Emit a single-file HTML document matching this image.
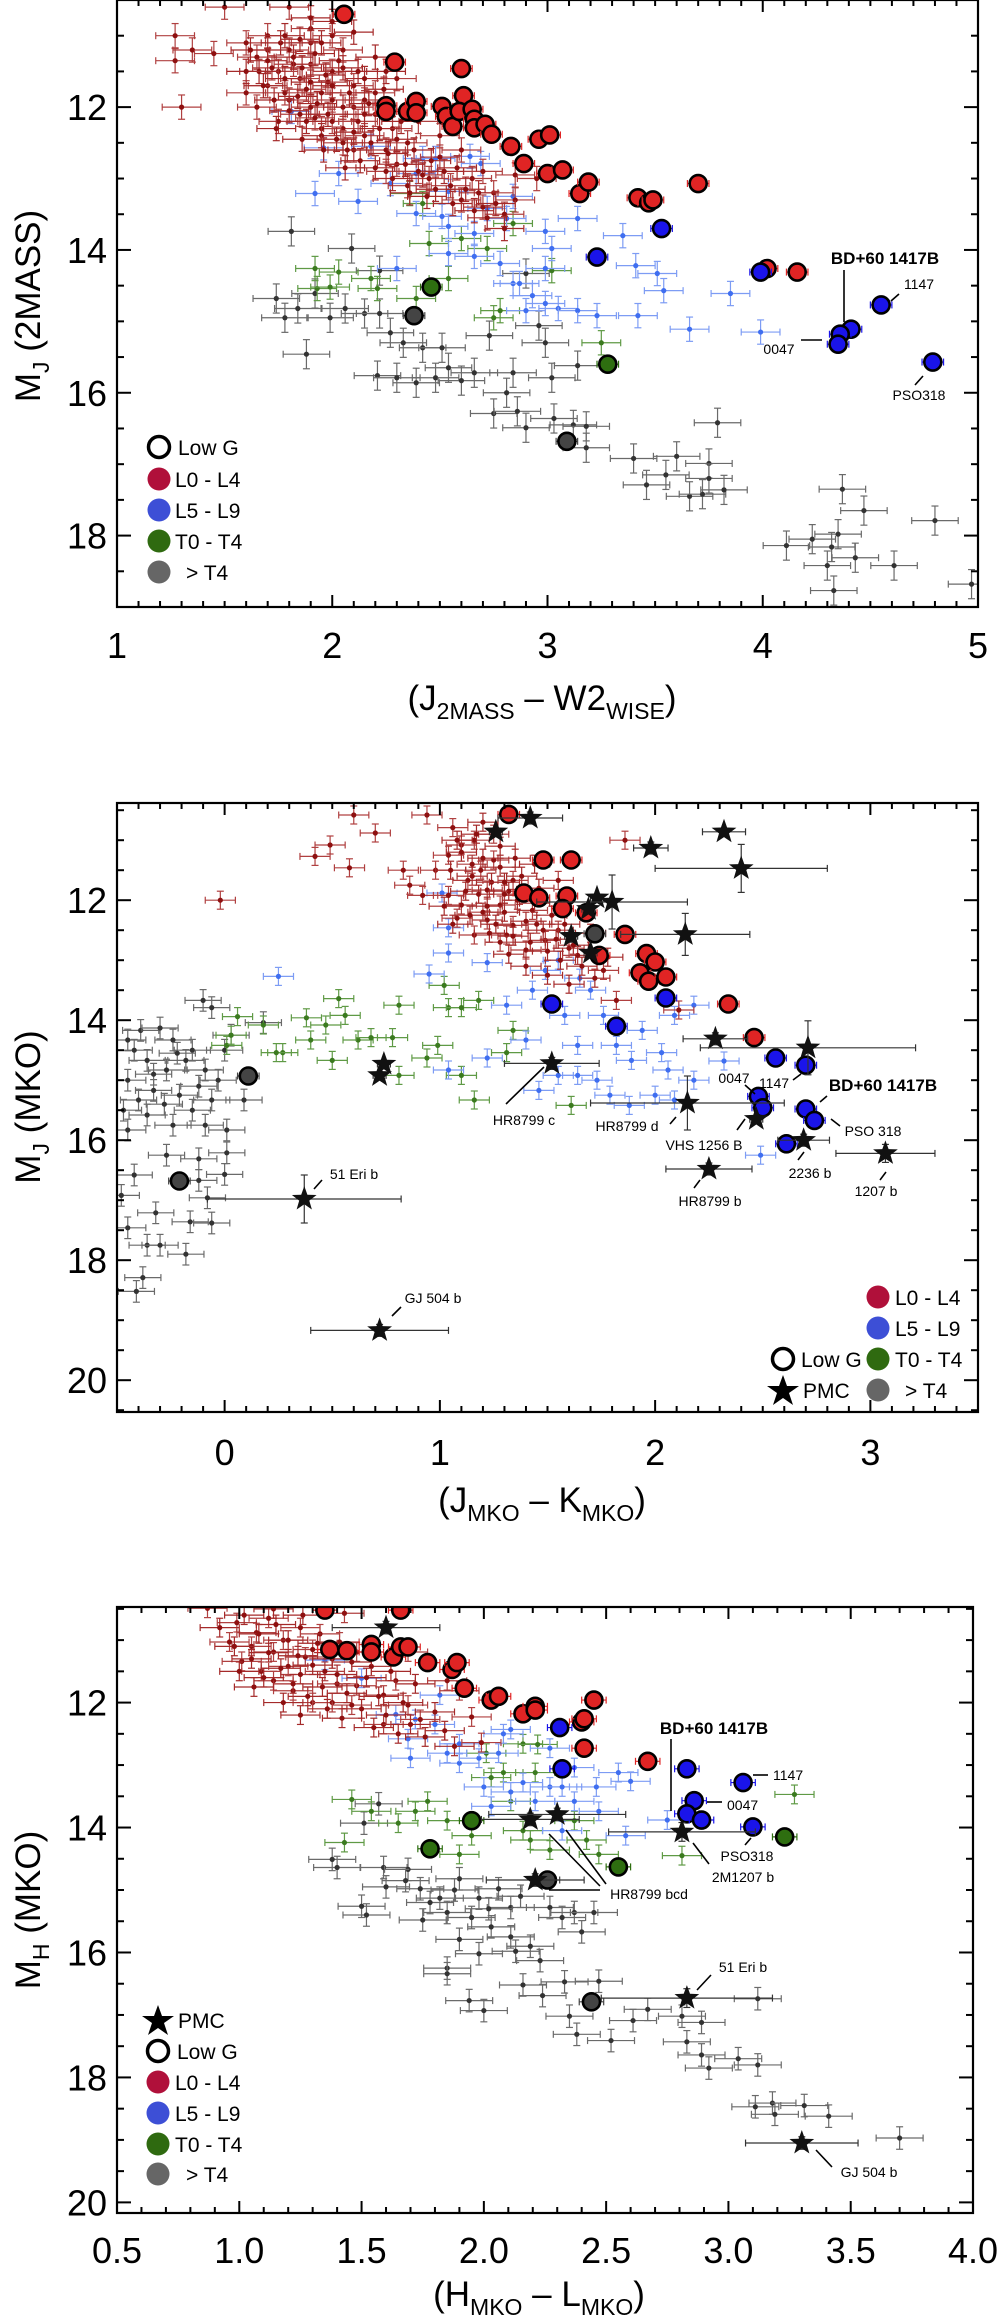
<!DOCTYPE html>
<html><head><meta charset="utf-8"><title>Color-magnitude diagrams</title>
<style>
html,body{margin:0;padding:0;background:#fff;}
svg{display:block;font-family:"Liberation Sans",Arial,sans-serif;}
.tick{font-size:36px;fill:#000;}
.ttl{font-size:35px;fill:#000;}
.ann{font-size:14px;fill:#000;}
.annb{font-size:17px;font-weight:bold;fill:#000;}
.leg{font-size:21px;fill:#000;}
</style></head>
<body>
<svg id="fig" width="1000" height="2318" viewBox="0 0 1000 2318" xmlns="http://www.w3.org/2000/svg">
<defs>
<clipPath id="c1"><rect x="117" y="0" width="861" height="607"/></clipPath>
<clipPath id="c2"><rect x="117" y="803" width="861" height="609"/></clipPath>
<clipPath id="c3"><rect x="117" y="1607" width="856" height="606"/></clipPath>
</defs>
<g id="p1"></g>
<g id="p2"></g>
<g id="p3"></g>

<text class="ttl" transform="translate(40,306) rotate(-90)" text-anchor="middle">M<tspan font-size="23" dy="9">J</tspan><tspan dy="-9"> (2MASS)</tspan></text>
<text class="ttl" x="542" y="710" text-anchor="middle">(J<tspan font-size="23" dy="9">2MASS</tspan><tspan dy="-9"> – W2</tspan><tspan font-size="23" dy="9">WISE</tspan><tspan dy="-9">)</tspan></text>
<text class="ttl" transform="translate(40,1107) rotate(-90)" text-anchor="middle">M<tspan font-size="23" dy="9">J</tspan><tspan dy="-9"> (MKO)</tspan></text>
<text class="ttl" x="542" y="1512" text-anchor="middle">(J<tspan font-size="23" dy="9">MKO</tspan><tspan dy="-9"> – K</tspan><tspan font-size="23" dy="9">MKO</tspan><tspan dy="-9">)</tspan></text>
<text class="ttl" transform="translate(40,1910) rotate(-90)" text-anchor="middle">M<tspan font-size="23" dy="9">H</tspan><tspan dy="-9"> (MKO)</tspan></text>
<text class="ttl" x="539" y="2306" text-anchor="middle">(H<tspan font-size="23" dy="9">MKO</tspan><tspan dy="-9"> – L</tspan><tspan font-size="23" dy="9">MKO</tspan><tspan dy="-9">)</tspan></text>

<g stroke="#000" stroke-width="1.6">
<line x1="844" y1="270" x2="844" y2="322"/>
<line x1="899" y1="294" x2="891" y2="301"/>
<line x1="801" y1="340" x2="822" y2="340"/>
<line x1="923" y1="376" x2="915" y2="385"/>
</g>
<text class="annb" x="885" y="264" text-anchor="middle">BD+60 1417B</text>
<text class="ann" x="919" y="289" text-anchor="middle" font-size="15">1147</text>
<text class="ann" x="779" y="354" text-anchor="middle" font-size="15">0047</text>
<text class="ann" x="919" y="400" text-anchor="middle" font-size="15">PSO318</text>

<g>
<circle cx="159" cy="447" r="10.5" fill="#fff" stroke="#000" stroke-width="3.5"/>
<text class="leg" x="178" y="455">Low G</text>
<circle cx="159" cy="479" r="11.5" fill="#b0103a"/><text class="leg" x="175" y="487">L0 - L4</text>
<circle cx="159" cy="510" r="11.5" fill="#3d4fd6"/><text class="leg" x="175" y="518">L5 - L9</text>
<circle cx="159" cy="541" r="11.5" fill="#2f6a10"/><text class="leg" x="175" y="549">T0 - T4</text>
<circle cx="159" cy="572" r="11.5" fill="#666"/><text class="leg" x="186" y="580">&gt; T4</text>
</g>

<g stroke="#000" stroke-width="1.6">
<line x1="314" y1="1189" x2="322" y2="1180"/>
<line x1="392" y1="1316" x2="401" y2="1307"/>
<line x1="506" y1="1104" x2="544" y2="1067"/>
<line x1="670" y1="1124" x2="676" y2="1117"/>
<line x1="737" y1="1130" x2="745" y2="1119"/>
<line x1="694" y1="1188" x2="700" y2="1180"/>
<line x1="745" y1="1085" x2="755" y2="1094"/>
<line x1="793" y1="1080" x2="801" y2="1074"/>
<line x1="820" y1="1102" x2="827" y2="1096"/>
<line x1="831" y1="1119" x2="840" y2="1126"/>
<line x1="798" y1="1160" x2="804" y2="1152"/>
<line x1="880" y1="1180" x2="886" y2="1172"/>
</g>
<text class="ann" x="354" y="1179" text-anchor="middle">51 Eri b</text>
<text class="ann" x="433" y="1303" text-anchor="middle">GJ 504 b</text>
<text class="ann" x="524" y="1125" text-anchor="middle">HR8799 c</text>
<text class="ann" x="627" y="1131" text-anchor="middle">HR8799 d</text>
<text class="ann" x="704" y="1150" text-anchor="middle">VHS 1256 B</text>
<text class="ann" x="710" y="1206" text-anchor="middle">HR8799 b</text>
<text class="ann" x="734" y="1083" text-anchor="middle">0047</text>
<text class="ann" x="774" y="1088" text-anchor="middle">1147</text>
<text class="annb" x="883" y="1091" text-anchor="middle">BD+60 1417B</text>
<text class="ann" x="873" y="1136" text-anchor="middle">PSO 318</text>
<text class="ann" x="810" y="1178" text-anchor="middle">2236 b</text>
<text class="ann" x="876" y="1196" text-anchor="middle">1207 b</text>

<g>
<circle cx="878" cy="1297" r="11.5" fill="#b0103a"/><text class="leg" x="895" y="1305">L0 - L4</text>
<circle cx="878" cy="1328" r="11.5" fill="#3d4fd6"/><text class="leg" x="895" y="1336">L5 - L9</text>
<circle cx="878" cy="1359" r="11.5" fill="#2f6a10"/><text class="leg" x="895" y="1367">T0 - T4</text>
<circle cx="878" cy="1390" r="11.5" fill="#666"/><text class="leg" x="905" y="1398">&gt; T4</text>
<circle cx="783" cy="1359" r="10.5" fill="#fff" stroke="#000" stroke-width="3.5"/><text class="leg" x="801" y="1367">Low G</text>
<polygon points="783,1375 787,1386 799,1386 789,1393 793,1405 783,1398 773,1405 777,1393 767,1386 779,1386" fill="#000"/>
<text class="leg" x="803" y="1398">PMC</text>
</g>

<g stroke="#000" stroke-width="1.6">
<line x1="671" y1="1739" x2="671" y2="1811"/>
<line x1="753" y1="1775" x2="768" y2="1775"/>
<line x1="707" y1="1802" x2="722" y2="1802"/>
<line x1="745" y1="1845" x2="751" y2="1838"/>
<line x1="709" y1="1864" x2="693" y2="1843"/>
<line x1="549" y1="1834" x2="600" y2="1886"/>
<line x1="566" y1="1830" x2="606" y2="1884"/>
<line x1="549" y1="1890" x2="600" y2="1890"/>
<line x1="697" y1="1990" x2="711" y2="1975"/>
<line x1="816" y1="2150" x2="832" y2="2167"/>
</g>
<text class="annb" x="714" y="1734" text-anchor="middle">BD+60 1417B</text>
<text class="ann" x="773" y="1780">1147</text>
<text class="ann" x="727" y="1810">0047</text>
<text class="ann" x="747" y="1861" text-anchor="middle">PSO318</text>
<text class="ann" x="743" y="1882" text-anchor="middle">2M1207 b</text>
<text class="ann" x="649" y="1899" text-anchor="middle">HR8799 bcd</text>
<text class="ann" x="743" y="1972" text-anchor="middle">51 Eri b</text>
<text class="ann" x="869" y="2177" text-anchor="middle">GJ 504 b</text>

<g>
<polygon points="158,2005 162,2016 174,2016 164,2023 168,2035 158,2028 148,2035 152,2023 142,2016 154,2016" fill="#000"/>
<text class="leg" x="178" y="2028">PMC</text>
<circle cx="158" cy="2051" r="10.5" fill="#fff" stroke="#000" stroke-width="3.5"/><text class="leg" x="177" y="2059">Low G</text>
<circle cx="158" cy="2082" r="11.5" fill="#b0103a"/><text class="leg" x="175" y="2090">L0 - L4</text>
<circle cx="158" cy="2113" r="11.5" fill="#3d4fd6"/><text class="leg" x="175" y="2121">L5 - L9</text>
<circle cx="158" cy="2144" r="11.5" fill="#2f6a10"/><text class="leg" x="175" y="2152">T0 - T4</text>
<circle cx="158" cy="2174" r="11.5" fill="#666"/><text class="leg" x="186" y="2182">&gt; T4</text>
</g>
</svg>

<script>
// ===== Panel 1 data =====
const p1Red = [[1.27,11.0],[1.27,11.35],[1.35,11.2],[1.3,12.0],[1.5,10.6],[1.45,11.25],[1.6,11.1],[1.65,11.3],[1.7,11.0],[1.75,11.5],[1.8,11.2],[1.85,11.6],[1.9,11.4],[1.95,11.8],[1.7,11.7],[1.8,11.9],[1.9,12.0],[2.0,11.9],[1.85,12.1],[2.0,12.2],[2.05,12.3],[2.1,12.0],[2.15,12.4],[2.2,12.1],[2.25,12.6],[2.3,12.8],[2.35,12.5],[2.4,12.9],[2.45,13.0],[2.5,12.7],[2.55,13.1],[2.6,13.3],[2.65,13.0],[2.7,13.4],[2.75,13.2],[2.8,13.5],[2.85,13.3],[1.9,11.1],[2.0,11.5],[2.05,11.2],[2.1,11.7],[2.2,11.8],[2.3,11.6],[2.4,12.2],[1.6,11.8],[1.65,12.0],[1.75,12.2],[2.1,12.6],[2.25,12.9],[2.35,13.1],[1.8,10.6],[1.9,10.9],[2.0,11.0],[2.5,12.4],[2.6,12.6],[2.7,12.9],[2.85,12.95],[2.95,13.0],[1.7,11.2],[1.78,11.8],[1.88,11.75],[1.95,12.3],[2.05,12.5],[2.15,11.9],[1.82,11.4],[1.92,12.15],[2.12,12.2],[2.28,12.3],[1.98,11.65],[1.72,11.45]];
const p1RedDense = [[1.62,11.2],[1.66,11.5],[1.7,11.35],[1.73,11.9],[1.76,11.1],[1.78,11.6],[1.8,12.05],[1.82,11.3],[1.84,11.85],[1.86,11.45],[1.88,12.2],[1.9,11.65],[1.92,11.25],[1.93,11.95],[1.95,12.4],[1.97,11.55],[1.98,12.1],[2.0,11.7],[2.02,12.45],[2.03,11.35],[2.05,12.0],[2.07,12.6],[2.08,11.8],[2.1,12.35],[2.12,11.5],[2.13,12.75],[2.15,12.1],[2.17,11.95],[2.18,12.5],[2.2,12.85],[2.22,12.3],[2.24,11.75],[2.26,12.65],[2.28,13.0],[2.3,12.45],[2.32,12.2],[2.34,12.8],[2.36,13.2],[2.38,12.6],[2.42,12.95],[2.44,13.25],[2.46,12.75],[2.48,13.15],[2.52,12.9],[2.56,13.35],[2.58,12.85],[2.62,13.15],[2.66,13.45],[2.68,13.2],[2.72,13.55],[2.76,13.35],[2.8,13.7],[1.85,11.05],[1.95,11.1],[2.05,11.45],[2.15,11.6],[1.6,11.5],[1.68,11.7],[1.74,12.3],[1.86,12.45],[1.96,12.6],[2.06,12.85],[1.9,10.75],[2.0,10.8],[2.1,10.95],[2.2,11.3],[2.25,11.5],[1.78,11.0]];
const p1Blue = [[1.81,12.06],[1.96,12.57],[2.03,12.93],[1.92,13.21],[2.12,13.32],[2.18,12.55],[2.27,13.07],[2.39,12.93],[2.42,12.72],[2.48,12.72],[2.54,13.18],[2.64,12.69],[2.69,12.79],[2.39,13.49],[2.51,13.53],[2.54,13.67],[2.66,13.77],[2.72,13.42],[2.81,13.56],[2.84,13.25],[2.99,13.74],[3.02,13.98],[3.14,13.56],[3.35,13.80],[3.41,14.22],[3.51,14.33],[3.54,14.57],[3.85,14.61],[3.42,14.92],[3.66,15.11],[3.99,15.15],[2.30,14.26],[2.54,14.05],[2.66,14.09],[2.78,14.19],[2.84,14.47],[2.93,14.64],[2.99,14.75],[3.05,14.82],[3.14,14.85],[3.23,14.92],[2.90,14.85],[2.99,14.26],[2.87,14.47]];
const p1Green = [[1.92,14.26],[2.03,14.31],[1.93,14.54],[1.99,14.52],[2.18,14.40],[2.21,14.54],[2.36,13.21],[2.42,13.35],[2.45,13.91],[2.54,14.40],[2.60,13.84],[2.72,13.98],[2.84,13.63],[2.75,14.95],[2.78,14.85],[3.02,14.29],[3.25,15.30],[2.39,14.68]];
const p1Gray = [[1.81,13.74],[2.09,13.98],[1.74,14.68],[1.78,14.95],[1.88,15.46],[1.84,14.82],[1.92,14.61],[1.99,14.95],[2.06,14.82],[2.15,14.89],[2.22,14.29],[2.22,14.89],[2.27,15.16],[2.33,15.30],[2.42,15.37],[2.51,15.37],[2.21,15.76],[2.30,15.79],[2.39,15.86],[2.48,15.79],[2.54,15.65],[2.60,15.83],[2.66,15.72],[2.73,15.20],[2.81,16.00],[2.84,15.72],[2.90,14.33],[2.99,15.30],[2.96,15.06],[2.75,16.29],[2.86,16.26],[2.90,16.49],[3.02,15.79],[3.14,15.62],[3.03,16.36],[3.12,16.45],[3.18,16.47],[3.18,16.77],[3.40,16.92],[3.60,16.89],[3.55,17.15],[3.46,17.29],[3.66,17.45],[3.72,17.42],[3.75,16.99],[3.75,17.20],[3.82,17.36],[3.79,16.42],[4.37,17.35],[4.47,17.65],[4.80,17.79],[4.11,18.14],[4.23,18.05],[4.35,17.98],[4.32,18.16],[4.43,18.31],[4.30,18.42],[4.61,18.42],[4.33,18.77],[4.97,18.68]];
const p1RedLowG = [[2.055,10.70],[2.29,11.37],[2.60,11.46],[2.61,11.84],[2.25,11.98],[2.25,12.06],[2.35,12.06],[2.39,11.92],[2.39,12.08],[2.51,11.99],[2.53,12.13],[2.56,12.27],[2.59,12.06],[2.65,12.03],[2.66,12.17],[2.66,12.29],[2.71,12.24],[2.74,12.38],[2.83,12.55],[2.89,12.79],[2.96,12.45],[3.01,12.39],[3.00,12.93],[3.07,12.88],[3.15,13.21],[3.19,13.05],[3.42,13.27],[3.47,13.34],[3.49,13.30],[3.70,13.07],[4.02,14.26],[4.16,14.31]];
const p1BlueLowG = [[3.53,13.70],[3.23,14.10],[3.99,14.31],[4.55,14.77],[4.41,15.11],[4.36,15.18],[4.35,15.32],[4.79,15.57]];
const p1GreenLowG = [[2.46,14.52],[3.28,15.60]];
const p1GrayLowG = [[2.38,14.92],[3.09,16.68]];
const p1Err = [0.09, 0.17];
const p1XTicks = ["1","2","3","4","5"];
const p1YTicks = ["12","14","16","18"];

// ===== Panel 2 data =====
const p2Red = [[-0.02,12.0],[0.42,11.27],[0.49,11.08],[0.58,11.46],[0.60,10.58],[0.70,10.88],[0.83,11.5],[0.86,11.75],[0.94,10.58],[1.06,10.79],[1.10,11.08],[1.04,11.25],[1.16,11.0],[1.19,11.5],[1.22,11.83],[1.28,12.08],[1.34,11.67],[1.10,12.08],[1.04,11.92],[1.22,12.33],[1.34,12.42],[1.43,12.17],[1.49,12.67],[1.55,12.5],[1.64,12.92],[1.76,13.17],[1.82,13.67],[2.11,13.83],[1.86,11.0],[0.98,11.5],[1.31,12.58],[1.40,12.83],[1.55,11.67],[0.92,11.92],[1.16,12.58],[1.25,11.33],[1.13,11.67],[1.37,11.92],[1.20,12.2],[1.30,11.9],[1.15,11.4],[1.28,12.7],[1.45,12.4],[1.60,12.8],[1.25,10.9],[1.08,12.3]];
const p2RedDense = [[1.1,11.2],[1.15,11.6],[1.18,11.9],[1.2,11.3],[1.22,12.1],[1.24,11.7],[1.26,12.4],[1.28,11.45],[1.3,12.2],[1.32,11.85],[1.34,12.6],[1.36,12.0],[1.38,11.6],[1.4,12.35],[1.42,12.7],[1.44,12.05],[1.46,11.8],[1.48,12.5],[1.5,12.85],[1.52,12.25],[1.54,12.65],[1.56,13.0],[1.58,12.4],[1.62,12.75],[1.66,13.1],[1.7,12.55],[1.72,13.3],[1.78,12.95],[1.12,11.85],[1.14,12.25],[1.05,11.5],[1.08,11.0],[1.17,10.9],[1.2,10.7],[1.28,11.1],[1.35,11.3],[1.23,12.55],[1.32,12.9],[1.4,13.1],[1.5,13.25],[1.6,13.4],[1.02,12.1],[1.06,12.4],[1.44,11.4],[1.3,11.7]];
const p2Blue = [[0.25,13.27],[0.95,13.23],[1.04,12.46],[1.04,12.88],[1.01,11.88],[1.22,13.04],[1.31,13.75],[1.43,13.5],[1.58,13.92],[1.64,14.42],[1.76,13.92],[1.82,14.42],[1.94,14.17],[1.89,14.67],[2.03,14.54],[2.06,14.83],[2.00,15.25],[2.18,15.0],[1.73,15.0],[1.64,14.92],[1.55,14.92],[1.46,15.17],[1.04,14.83],[1.22,14.63],[2.49,16.25],[2.32,14.68],[2.18,13.75],[1.40,14.33],[1.79,15.25],[1.88,15.42],[2.09,15.33],[1.70,13.5],[1.49,13.17],[2.09,13.92],[1.55,13.0],[1.65,13.3]];
const p2Green = [[0.01,14.42],[0.06,13.94],[0.18,14.08],[0.27,14.54],[0.38,13.96],[0.47,14.08],[0.53,13.64],[0.56,13.92],[0.62,14.33],[0.68,14.29],[0.78,14.29],[0.81,13.75],[0.81,14.92],[0.94,14.63],[0.99,14.42],[1.02,13.42],[1.04,13.79],[1.10,13.79],[1.10,14.92],[1.16,15.33],[1.18,13.67],[1.31,14.54],[1.34,14.17],[0.50,14.67],[0.24,14.54],[1.61,15.42],[0.03,14.25],[0.40,14.33]];
const p2Gray = [[-0.10,13.67],[-0.06,13.79],[-0.45,14.33],[-0.39,14.17],[-0.30,14.13],[-0.24,14.33],[-0.15,14.5],[-0.36,14.67],[-0.27,14.83],[-0.18,14.67],[-0.09,14.83],[-0.45,15.0],[-0.40,15.33],[-0.33,15.17],[-0.21,15.25],[-0.15,15.5],[-0.06,15.33],[0.01,15.83],[0.01,16.21],[-0.09,15.75],[-0.27,16.25],[-0.12,16.31],[-0.42,16.58],[-0.12,16.67],[0.0,16.57],[-0.08,16.96],[-0.45,17.46],[-0.32,17.21],[-0.16,17.36],[-0.06,17.38],[-0.36,17.75],[-0.30,17.75],[-0.18,17.9],[-0.38,18.29],[-0.41,18.52],[-0.48,16.92],[0.0,14.5],[0.18,14.04],[0.03,14.25],[0.09,15.33],[-0.36,15.58],[-0.24,15.75],[-0.45,15.83],[-0.03,15.0],[-0.42,14.5],[-0.33,14.9],[-0.22,14.55],[-0.12,15.1],[-0.47,15.5],[-0.28,15.4]];
const p2RedLowG = [[1.32,10.57],[1.48,11.33],[1.61,11.33],[1.39,11.88],[1.46,11.96],[1.59,11.93],[1.57,12.14],[1.68,12.21],[1.86,12.57],[1.74,12.92],[1.96,12.89],[2.00,13.03],[1.93,13.21],[1.97,13.35],[2.05,13.28],[2.34,13.73],[2.46,14.29]];
const p2BlueLowG = [[1.52,13.73],[1.82,14.10],[2.05,13.63],[2.56,14.63],[2.70,14.75],[2.48,15.27],[2.50,15.46],[2.70,15.48],[2.74,15.67],[2.61,16.06]];
const p2GrayLowG = [[1.72,12.56],[0.11,14.93],[-0.21,16.68]];
const p2StarX = [1.42,1.26,2.32,1.98,2.40,1.73,1.80,1.69,1.61,2.14,1.70,2.28,2.71,1.52,0.74,0.72,2.15,2.47,2.69,2.25,3.07,0.37,0.72];
const p2StarY = [10.63,10.86,10.86,11.13,11.47,11.96,12.03,12.15,12.60,12.57,12.88,14.31,14.46,14.72,14.73,14.92,15.38,15.65,16.0,16.48,16.22,16.98,19.17];
const p2StarXErr = [0.15,0.03,0.1,0.08,0.4,0.03,0.35,0.03,0.03,0.3,0.03,0.15,0.5,0.22,0.03,0.03,0.45,0.03,0.12,0.2,0.23,0.45,0.32];
const p2StarYErr = [0.1,0.05,0.05,0.1,0.4,0.05,0.45,0.05,0.1,0.35,0.05,0.1,0.45,0.1,0.05,0.05,0.45,0.05,0.1,0.1,0.15,0.4,0.1];
const p2Err = [0.07, 0.15];
const p2XTicks = ["0","1","2","3"];
const p2YTicks = ["12","14","16","18","20"];

// ===== Panel 3 data =====
const p3Red = [[0.87,10.49],[0.99,10.72],[0.96,11.03],[1.07,10.88],[1.14,11.19],[1.25,10.80],[1.27,11.27],[1.35,11.50],[1.41,11.03],[1.48,11.73],[1.54,11.42],[1.59,11.88],[1.64,11.65],[1.69,12.04],[1.30,12.0],[1.38,12.0],[1.59,12.35],[1.74,12.27],[1.85,11.65],[1.90,11.81],[1.95,12.23],[1.99,12.64],[1.14,11.65],[1.20,11.42],[1.43,10.57],[1.09,11.50],[1.48,11.19],[1.69,11.19],[1.22,11.81],[1.12,10.65],[1.01,11.34],[1.46,12.04],[1.05,11.1],[1.18,11.0],[1.30,11.15],[1.25,11.55],[1.40,11.7],[1.33,10.9]];
const p3RedDense = [[0.92,10.8],[0.98,11.1],[1.02,10.6],[1.05,11.3],[1.08,10.9],[1.1,11.6],[1.12,11.2],[1.15,10.75],[1.17,11.45],[1.2,11.0],[1.22,11.7],[1.24,11.25],[1.26,10.6],[1.28,11.9],[1.3,11.4],[1.32,11.05],[1.34,11.75],[1.36,12.1],[1.38,11.3],[1.4,11.55],[1.42,12.25],[1.44,11.85],[1.46,11.35],[1.5,12.1],[1.52,11.6],[1.55,12.4],[1.57,11.9],[1.6,12.2],[1.62,11.5],[1.65,12.5],[1.67,12.0],[1.7,12.35],[1.72,11.7],[1.76,12.55],[1.8,12.15],[1.84,12.45],[1.88,12.7],[1.0,11.5],[1.06,11.75],[1.18,12.0],[1.25,12.2],[1.14,10.5]];
const p3Blue = [[1.35,11.32],[1.50,11.61],[1.64,12.19],[1.72,12.27],[1.80,12.35],[1.69,12.58],[1.70,12.89],[1.82,11.88],[1.85,12.81],[1.90,12.97],[1.98,12.89],[2.06,12.81],[2.11,12.43],[2.00,13.35],[2.11,13.43],[2.21,13.58],[2.27,13.35],[2.37,13.58],[2.46,13.35],[2.47,13.74],[2.37,13.04],[2.55,13.12],[2.60,13.26],[2.32,14.05],[2.58,14.13],[2.75,13.88],[2.32,13.35],[2.16,13.28],[2.03,13.66],[1.90,12.66],[2.27,12.73],[2.08,12.50]];
const p3Green = [[1.46,13.55],[1.54,13.74],[1.65,13.93],[1.43,14.24],[1.77,13.58],[1.85,13.89],[1.95,14.13],[2.03,13.20],[2.08,13.12],[2.11,13.58],[2.16,14.05],[2.21,13.12],[2.19,14.20],[2.27,14.36],[2.37,13.89],[2.42,14.20],[2.47,14.43],[2.01,12.81],[2.16,12.66],[2.22,12.67],[2.81,14.45],[3.27,13.47],[1.90,14.43],[1.72,13.74]];
const p3Gray = [[1.57,13.62],[1.51,13.93],[1.38,14.51],[1.40,14.64],[1.59,14.64],[1.60,14.95],[1.69,14.67],[1.74,14.98],[1.82,15.13],[1.90,14.82],[1.98,15.13],[2.06,14.98],[2.11,15.28],[1.50,15.26],[1.52,15.40],[1.75,15.48],[1.85,15.36],[1.95,15.44],[2.03,15.59],[2.11,15.75],[2.19,15.90],[2.27,15.28],[2.32,15.44],[2.37,15.36],[2.40,15.67],[2.45,15.36],[1.90,15.79],[1.98,16.02],[2.13,15.98],[2.23,16.13],[1.85,16.25],[1.85,16.34],[1.94,16.77],[2.00,16.93],[2.16,16.52],[2.24,16.69],[2.33,16.47],[2.35,17.02],[2.38,17.31],[2.47,16.46],[2.52,17.41],[2.61,17.09],[2.67,16.91],[2.81,17.02],[2.89,17.12],[2.83,17.43],[2.89,17.64],[2.92,17.85],[3.04,17.70],[3.12,17.80],[3.12,16.74],[3.11,18.47],[3.18,18.41],[3.31,18.45],[3.19,18.59],[3.41,18.62],[3.70,18.97],[1.78,15.2],[2.02,15.3],[2.15,15.1],[1.68,14.85],[1.88,15.0]];
const p3RedLowG = [[1.35,10.52],[1.66,10.52],[1.37,11.15],[1.44,11.17],[1.54,11.07],[1.54,11.19],[1.63,11.27],[1.66,11.11],[1.69,11.11],[1.77,11.36],[1.87,11.47],[1.89,11.36],[1.92,11.77],[2.03,11.96],[2.06,11.90],[2.16,12.18],[2.21,12.06],[2.21,12.12],[2.40,12.31],[2.41,12.26],[2.45,11.96],[2.41,12.73],[2.67,12.94]];
const p3BlueLowG = [[2.31,12.40],[2.32,13.06],[2.83,13.06],[3.06,13.28],[2.86,13.57],[2.83,13.78],[2.89,13.88],[3.10,13.99]];
const p3GreenLowG = [[1.95,13.89],[1.78,14.34],[2.55,14.63],[3.23,14.15]];
const p3GrayLowG = [[2.26,14.84],[2.44,16.79]];
const p3StarX = [1.60,2.19,2.30,2.21,2.81,2.83,3.30];
const p3StarY = [10.80,13.87,13.79,14.84,14.07,16.73,19.05];
const p3StarXErr = [0.22,0.2,0.28,0.2,0.3,0.35,0.23];
const p3StarYErr = [0.1,0.1,0.1,0.1,0.15,0.15,0.1];
const p3Err = [0.08, 0.15];
const p3XTicks = ["0.5","1.0","1.5","2.0","2.5","3.0","3.5","4.0"];
const p3YTicks = ["12","14","16","18","20"];

const NS = "http://www.w3.org/2000/svg";
const P1 = {g:"p1",clip:"c1",x0:117,x1:978,y0:0,y1:607,xmin:1,xmax:5,ymin:10.5,ymax:19,xMinor:0.1,yMinor:0.5,labY:658,err:p1Err};
const P2 = {g:"p2",clip:"c2",x0:117,x1:978,y0:803,y1:1412,xmin:-0.5,xmax:3.5,ymin:10.38,ymax:20.53,xMinor:0.1,yMinor:0.5,labY:1465,err:p2Err};
const P3 = {g:"p3",clip:"c3",x0:117,x1:973,y0:1607,y1:2213,xmin:0.5,xmax:4.0,ymin:10.47,ymax:20.17,xMinor:0.1,yMinor:0.5,labY:2263,err:p3Err};

function sx(P,v){return P.x0+(v-P.xmin)/(P.xmax-P.xmin)*(P.x1-P.x0);}
function sy(P,v){return P.y0+(v-P.ymin)/(P.ymax-P.ymin)*(P.y1-P.y0);}
function mk(tag,parent){const e=document.createElementNS(NS,tag);parent.appendChild(e);return e;}
function ln(parent,x1,y1,x2,y2,col,w){const l=mk("line",parent);l.setAttribute("x1",x1);l.setAttribute("y1",y1);l.setAttribute("x2",x2);l.setAttribute("y2",y2);l.setAttribute("stroke",col);l.setAttribute("stroke-width",w);return l;}

function errPoint(g,P,x,y,ex,ey,col,ecol,r,name){
  const grp=mk("g",g);
  
  
  const px=sx(P,x),py=sy(P,y);
  const dx=Math.abs(sx(P,x+ex)-px),dy=Math.abs(sy(P,y+ey)-py);
  ln(grp,px-dx,py,px+dx,py,ecol,1.2);
  ln(grp,px-dx,py-3.5,px-dx,py+3.5,ecol,1.2);
  ln(grp,px+dx,py-3.5,px+dx,py+3.5,ecol,1.2);
  ln(grp,px,py-dy,px,py+dy,ecol,1.2);
  ln(grp,px-3.5,py-dy,px+3.5,py-dy,ecol,1.2);
  ln(grp,px-3.5,py+dy,px+3.5,py+dy,ecol,1.2);
  const c=mk("circle",grp);c.setAttribute("cx",px);c.setAttribute("cy",py);c.setAttribute("r",r);c.setAttribute("fill",col);
}
function bigPoint(g,P,x,y,fill,name){
  errPoint(g,P,x,y,0.05,0.12,"none",fill,0,name+"-err");
  const c=mk("circle",g);
  
  
  c.setAttribute("cx",sx(P,x));c.setAttribute("cy",sy(P,y));c.setAttribute("r",8.5);
  c.setAttribute("fill",fill);c.setAttribute("stroke","#000");c.setAttribute("stroke-width",2.6);
}
function star(g,P,x,y,ex,ey,name){
  errPoint(g,P,x,y,ex,ey,"none","#333",0,name+"-err");
  const px=sx(P,x),py=sy(P,y),R=13,r=5.3;let pts=[];
  for(let i=0;i<10;i++){const a=-Math.PI/2+i*Math.PI/5,rr=i%2?r:R;pts.push((px+rr*Math.cos(a)).toFixed(1)+","+(py+rr*Math.sin(a)).toFixed(1));}
  const s=mk("polygon",g);
  
  
  s.setAttribute("points",pts.join(" "));s.setAttribute("fill","#111");
}
function axes(P,xt,yt,xstep,ystep){
  const g=document.getElementById(P.g);
  const ax=mk("g",g);
  
  
  const fr=mk("rect",ax);fr.setAttribute("x",P.x0);fr.setAttribute("y",P.y0);fr.setAttribute("width",P.x1-P.x0);fr.setAttribute("height",P.y1-P.y0);
  fr.setAttribute("fill","none");fr.setAttribute("stroke","#000");fr.setAttribute("stroke-width",2.2);
  const n=Math.round((P.xmax-P.xmin)/P.xMinor);
  for(let i=0;i<=n;i++){const v=P.xmin+i*P.xMinor;const x=sx(P,v);const maj=Math.abs(v/xstep-Math.round(v/xstep))<1e-6;const L=maj?12:6;
    ln(ax,x,P.y1,x,P.y1-L,"#000",2);ln(ax,x,P.y0,x,P.y0+L,"#000",2);}
  const y0=Math.ceil(P.ymin/P.yMinor)*P.yMinor;
  for(let v=y0;v<=P.ymax+1e-6;v+=P.yMinor){const y=sy(P,v);const maj=Math.abs(v/ystep-Math.round(v/ystep))<1e-6;const L=maj?14:7;
    ln(ax,P.x0,y,P.x0+L,y,"#000",2);ln(ax,P.x1,y,P.x1-L,y,"#000",2);}
  xt.forEach(s=>{const t=mk("text",ax);
    
    
    t.setAttribute("x",sx(P,parseFloat(s)));t.setAttribute("y",P.labY);t.setAttribute("text-anchor","middle");t.setAttribute("class","tick");t.textContent=s;});
  yt.forEach(s=>{const t=mk("text",ax);
    
    
    t.setAttribute("x",107);t.setAttribute("y",sy(P,parseFloat(s))+13);t.setAttribute("text-anchor","end");t.setAttribute("class","tick");t.textContent=s;});
}
function field(P,arr,col,ecol,name,scale){
  const g=document.getElementById(P.g+"d");
  arr.forEach(p=>errPoint(g,P,p[0],p[1],P.err[0]*scale,P.err[1]*scale,col,ecol,2.6,name));
}
function panel(P,d){
  const root=document.getElementById(P.g);
  const dg=mk("g",root);dg.setAttribute("id",P.g+"d");dg.setAttribute("clip-path","url(#"+P.clip+")");
  
  
  field(P,d.gray,"#333","#6a6a6a","field-t-late",1.2);
  field(P,d.green,"#3b7a1f","#5f9a45","field-t-early",1);
  field(P,d.blue,"#3f6ef0","#7d9cf4","field-l-late",1);
  field(P,d.red,"#8e1010","#b04040","field-l-early",1);
  field(P,d.redD,"#8e1010","#a52a2a","field-l-early-dense",1);
  (d.redL||[]).forEach(p=>bigPoint(dg,P,p[0],p[1],"#e02424","lowg-l-early"));
  (d.blueL||[]).forEach(p=>bigPoint(dg,P,p[0],p[1],"#1a14ea","lowg-l-late"));
  (d.greenL||[]).forEach(p=>bigPoint(dg,P,p[0],p[1],"#2e6e10","lowg-t-early"));
  (d.grayL||[]).forEach(p=>bigPoint(dg,P,p[0],p[1],"#444","lowg-t-late"));
  if(d.sx) d.sx.forEach((x,i)=>star(dg,P,x,d.sy[i],d.sex[i],d.sey[i],"pmc-star"));
}
panel(P1,{gray:p1Gray,green:p1Green,blue:p1Blue,red:p1Red,redD:p1RedDense,redL:p1RedLowG,blueL:p1BlueLowG,greenL:p1GreenLowG,grayL:p1GrayLowG});
panel(P2,{gray:p2Gray,green:p2Green,blue:p2Blue,red:p2Red,redD:p2RedDense,redL:p2RedLowG,blueL:p2BlueLowG,grayL:p2GrayLowG,sx:p2StarX,sy:p2StarY,sex:p2StarXErr,sey:p2StarYErr});
panel(P3,{gray:p3Gray,green:p3Green,blue:p3Blue,red:p3Red,redD:p3RedDense,redL:p3RedLowG,blueL:p3BlueLowG,greenL:p3GreenLowG,grayL:p3GrayLowG,sx:p3StarX,sy:p3StarY,sex:p3StarXErr,sey:p3StarYErr});
axes(P1,p1XTicks,p1YTicks,1,2);
axes(P2,p2XTicks,p2YTicks,1,2);
axes(P3,p3XTicks,p3YTicks,0.5,2);
</script>
</body></html>
